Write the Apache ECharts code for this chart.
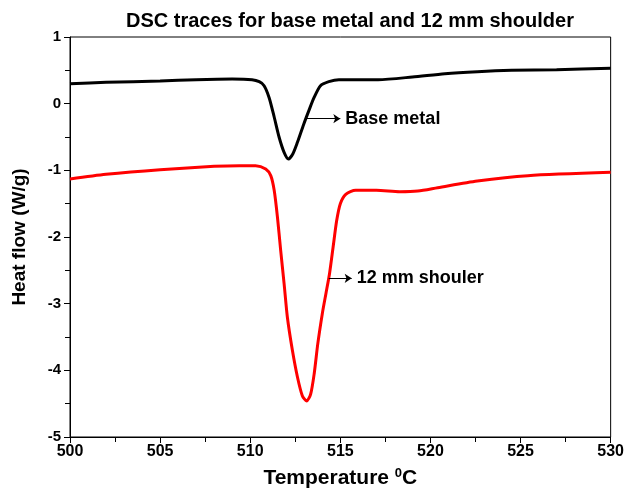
<!DOCTYPE html>
<html>
<head>
<meta charset="utf-8">
<script src="https://cdn.jsdelivr.net/npm/echarts@6/dist/echarts.min.js"></script>
<style>html,body{margin:0;padding:0;background:#fff}#c{width:627px;height:496px}</style>
</head>
<body>
<div id="c"></div>
<script>
var titleText = 'DSC traces for base metal and 12 mm shoulder';
var xTicks = [500, 505, 510, 515, 520, 525, 530];
var yTicks = [-5, -4, -3, -2, -1, 0, 1];

var baseT = [500, 502, 505, 507, 509, 510.1, 510.5, 510.77, 511.05, 511.33, 511.6, 511.88, 512.12, 512.37, 512.62, 512.98, 513.26, 513.54, 513.9, 514.36, 514.92, 516, 517.1, 519, 520.8, 522.6, 524.5, 527, 530];
var baseV = [0.30, 0.32, 0.34, 0.36, 0.37, 0.36, 0.33, 0.27, 0.09, -0.20, -0.50, -0.73, -0.83, -0.75, -0.58, -0.30, -0.10, 0.09, 0.27, 0.33, 0.36, 0.36, 0.36, 0.40, 0.45, 0.48, 0.50, 0.51, 0.53];

var shT = [500, 502, 505, 508, 509.4, 510.3, 510.86, 511.14, 511.33, 511.51, 511.69, 511.88, 512.06, 512.34, 512.62, 512.89, 513.13, 513.35, 513.55, 513.75, 514.0, 514.2, 514.4, 514.6, 514.8, 515.0, 515.3, 515.85, 517.0, 518.3, 519.3, 520.4, 522.6, 525.4, 530];
var shV = [-1.13, -1.06, -0.99, -0.94, -0.93, -0.93, -0.98, -1.08, -1.30, -1.70, -2.20, -2.70, -3.20, -3.70, -4.10, -4.38, -4.46, -4.36, -4.05, -3.60, -3.15, -2.85, -2.55, -2.15, -1.75, -1.50, -1.36, -1.30, -1.30, -1.32, -1.31, -1.26, -1.16, -1.08, -1.03];

var baseLabel = 'Base metal';
var baseArrow = [[513.15, -0.225], [515.0, -0.225]];
var shLabel = '12 mm shouler';
var shArrow = [[514.36, -2.62], [515.63, -2.62]];

function pairs(t, v) { return t.map(function (x, i) { return [x, v[i]]; }); }

var font = 'Liberation Sans, Arial, sans-serif';
var chart = echarts.init(document.getElementById('c'));

function arrowLine(pts, label) {
  return {
    silent: true,
    symbol: ['none', 'arrow'],
    symbolSize: 7,
    lineStyle: { color: '#000', width: 1, type: 'solid' },
    label: {
      show: true, position: 'end', formatter: label, distance: 5,
      color: '#000', fontFamily: font, fontWeight: 'bold', fontSize: 18
    },
    animation: false,
    data: [[{ coord: pts[0] }, { coord: pts[1] }]]
  };
}

chart.setOption({
  animation: false,
  backgroundColor: '#fff',
  title: {
    text: titleText, left: 121, top: 6,
    textStyle: { fontFamily: font, fontWeight: 'bold', fontSize: 20, color: '#000' }
  },
  grid: { left: 70, right: 14, top: 37, bottom: 59, show: true, borderColor: '#000', borderWidth: 1, backgroundColor: 'transparent' },
  xAxis: {
    type: 'value', min: xTicks[0], max: xTicks[xTicks.length - 1], interval: 5,
    name: 'Temperature {sup|0}C', nameLocation: 'middle', nameGap: 30,
    nameTextStyle: {
      fontFamily: font, fontWeight: 'bold', fontSize: 21, color: '#000',
      rich: { sup: { fontFamily: font, fontWeight: 'bold', fontSize: 13, color: '#000', verticalAlign: 'top', padding: [0, 0, 10, 0] } }
    },
    axisLine: { onZero: false, lineStyle: { color: '#000', width: 1 } },
    axisTick: { show: true, length: 6, lineStyle: { color: '#000' } },
    minorTick: { show: true, splitNumber: 2, length: 5, lineStyle: { color: '#000' } },
    splitLine: { show: false },
    axisLabel: { fontFamily: font, fontWeight: 'bold', fontSize: 16, color: '#000', margin: 7 }
  },
  yAxis: {
    type: 'value', min: yTicks[0], max: yTicks[yTicks.length - 1], interval: 1,
    name: 'Heat flow (W/g)', nameLocation: 'middle', nameGap: 41,
    nameTextStyle: { fontFamily: font, fontWeight: 'bold', fontSize: 19, color: '#000' },
    axisLine: { show: true, onZero: false, lineStyle: { color: '#000', width: 1 } },
    axisTick: { show: true, length: 6, lineStyle: { color: '#000' } },
    minorTick: { show: true, splitNumber: 2, length: 5, lineStyle: { color: '#000' } },
    splitLine: { show: false },
    axisLabel: { fontFamily: font, fontWeight: 'bold', fontSize: 15, color: '#000', margin: 9 }
  },
  series: [
    {
      type: 'line', name: baseLabel, data: pairs(baseT, baseV), showSymbol: false,
      smooth: 0.25,
      lineStyle: { color: '#000', width: 3 }, itemStyle: { color: '#000' },
      markLine: arrowLine(baseArrow, baseLabel)
    },
    {
      type: 'line', name: shLabel, data: pairs(shT, shV), showSymbol: false,
      smooth: 0.25,
      lineStyle: { color: '#ff0000', width: 3 }, itemStyle: { color: '#ff0000' },
      markLine: arrowLine(shArrow, shLabel)
    }
  ]
});
</script>
</body>
</html>
